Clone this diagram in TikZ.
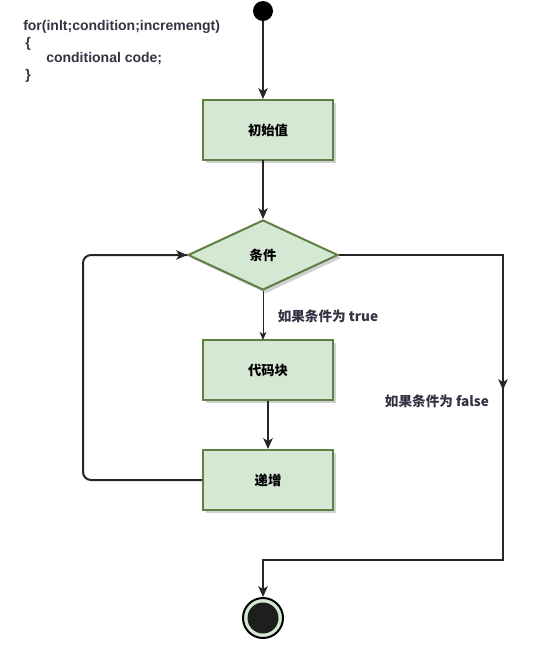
\documentclass[tikz,border=0pt]{standalone}
\usepackage{fontspec}
\setmainfont{Liberation Sans}
\newfontfamily\cjk{Noto Sans CJK SC}
\usetikzlibrary{arrows.meta,shapes.geometric}
\definecolor{boxfill}{HTML}{D5E8D4}
\definecolor{boxline}{HTML}{5F7F45}
\definecolor{txt}{HTML}{333344}
\definecolor{endfill}{HTML}{1E1E1E}
\tikzset{
  box/.style={draw=boxline,fill=boxfill,line width=1.5pt,minimum width=130*0.75pt,minimum height=60*0.75pt,inner sep=0pt,font=\cjk\bfseries\fontsize{10}{12}\selectfont,text=black},
  dia/.style={diamond,draw=boxline,fill=boxfill,line width=1.5pt,minimum width=150*0.75pt,minimum height=70*0.75pt,inner sep=0pt,aspect=2.14,font=\cjk\bfseries\fontsize{10}{12}\selectfont,text=black},
  shadowbox/.style={fill=black!18,draw=none},
  flow/.style={draw=black!85,line width=1.5pt,-{Stealth[length=8pt,width=7pt,inset=2pt]}},
  thinflow/.style={draw=black!85,line width=0.75pt,-{Stealth[length=6pt,width=5pt,inset=1.5pt]}},
  lbl/.style={font=\cjk\bfseries\fontsize{10.2}{12}\selectfont,text=txt,inner sep=0pt},
  code/.style={font=\bfseries\fontsize{10.5}{12}\selectfont,text=txt,inner sep=0pt,anchor=west},
}
\begin{document}
\begin{tikzpicture}[x=0.75pt,y=-0.75pt]
\useasboundingbox (0,0) rectangle (539,658);
% code text
\node[code] (c1) at (23,27) {for(inlt;condition;incremengt)};
\node[code] (c2) at (25,44) {\{};
\node[code] (c3) at (46,59) {conditional code;};
\node[code] (c4) at (25,76) {\}};
% start
\node[circle,fill=black,minimum size=20*0.75pt,inner sep=0pt] (start) at (263,11) {};
% shadows
\fill[shadowbox] (206,103) rectangle (336,163);
\fill[shadowbox] (206,343) rectangle (336,403);
\fill[shadowbox] (206,453) rectangle (336,513);
\fill[shadowbox] (191,258) -- (266,223) -- (341,258) -- (266,293) -- cycle;
% boxes
\node[box] (init) at (268,130) {初始值};
\node[dia] (cond) at (263,255) {条件};
\node[box] (body) at (268,370) {代码块};
\node[box] (incr) at (268,480) {递增};
% end
\node[circle,draw=black,line width=1.5pt,fill=boxfill,minimum size=40*0.75pt,inner sep=0pt] (end) at (263,618) {};
\fill[endfill] (end.center) circle (15.5*0.75pt);
% connectors
\draw[flow] (start) -- (start|-init.north);
\draw[flow] (263,160) -- (cond.north);
\draw[thinflow] (cond.south) -- (263,340);
\draw[flow] (body.south) -- (incr.north);
\draw[draw=black!85,line width=1.5pt,rounded corners=8*0.75pt] (incr.west) -- (83,480) -- (83,255) -- (cond.west);
\draw[flow] (100,255) -- (cond.west);
\draw[draw=black!85,line width=1.5pt] (cond.east) -- (503,255) -- (503,560) -- (263,560) -- (263,575);
\draw[flow] (503,300) -- (503,390);
\draw[flow] (263,565) -- (end.north);
% labels
\node[lbl] (ltrue) at (328,316) {如果条件为 true};
\node[lbl] (lfalse) at (437,401) {如果条件为 false};
\end{tikzpicture}
\end{document}
